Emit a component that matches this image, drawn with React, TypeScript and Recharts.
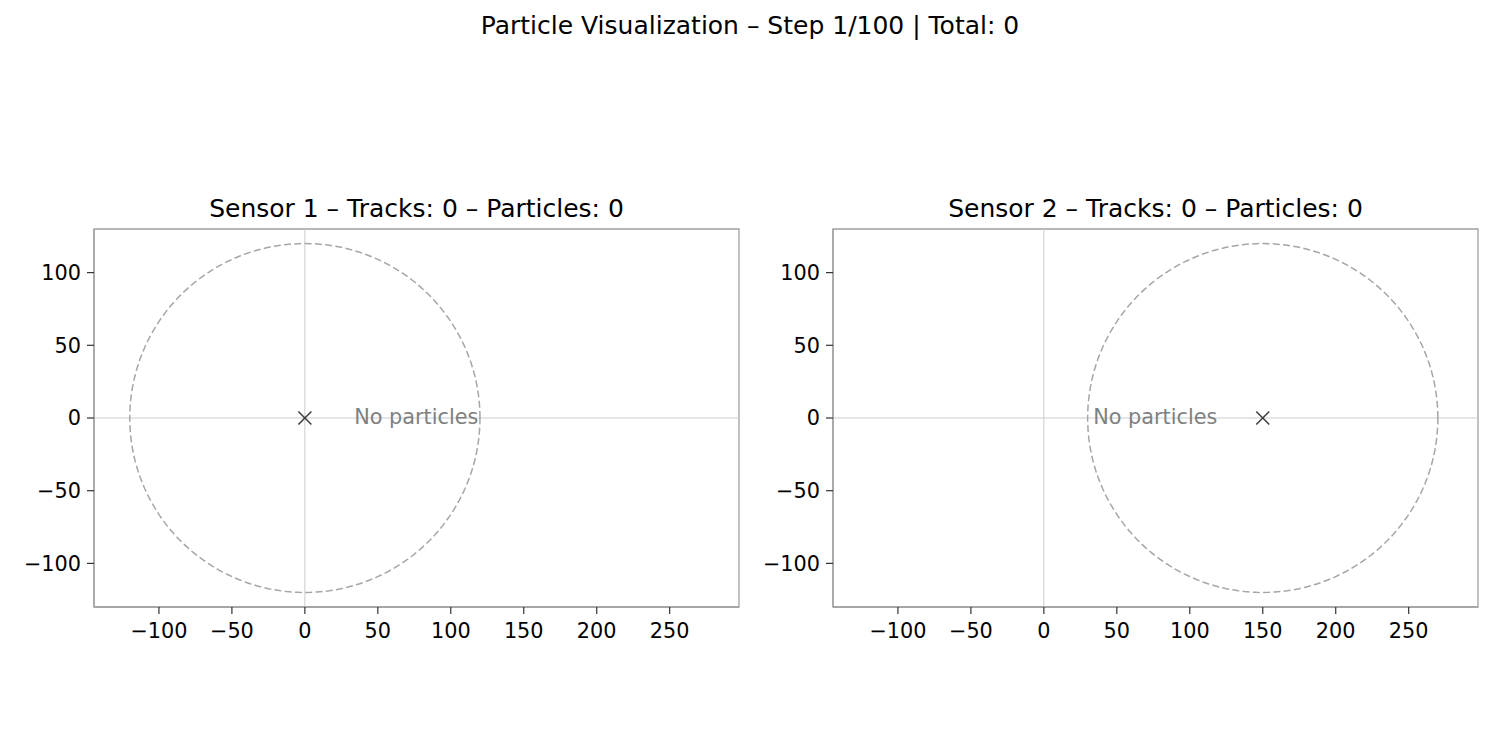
import React from 'react'
import {
  ScatterChart,
  Scatter,
  XAxis,
  YAxis,
  ReferenceLine,
  ReferenceArea,
} from 'recharts'

const sensorNames = ['Sensor 1', 'Sensor 2']
const sensorX = [0, 150]
const sensorY = [0, 0]
const sensorRange = 120
const trackCounts = [0, 0]
const particleCounts = [0, 0]
const noteX = 75
const noteY = 0

const currentStep = 1
const totalSteps = 100
const totalParticles = 0

const xDomain: [number, number] = [-144.5, 297.5]
const yDomain: [number, number] = [-130, 130]
const xTicks = [-100, -50, 0, 50, 100, 150, 200, 250]
const yTicks = [-100, -50, 0, 50, 100]

const FONT = '"DejaVu Sans", sans-serif'
const SPINE = '#a0a0a0'

const fmt = (v: number) => (v < 0 ? `\u2212${Math.abs(v)}` : `${v}`)

// outline of the sensor's range ring
const ringPoints = (cx: number, cy: number, r: number) => {
  const pts = []
  for (let i = 0; i <= 180; i++) {
    const a = (i / 180) * Math.PI * 2
    pts.push({ x: cx + r * Math.cos(a), y: cy + r * Math.sin(a) })
  }
  return pts
}

const Cross = ({ cx, cy }: { cx?: number; cy?: number }) => {
  if (cx == null || cy == null) return <g />
  const s = 6.5
  return (
    <g stroke="#404040" strokeWidth={1.6}>
      <line x1={cx - s} y1={cy - s} x2={cx + s} y2={cy + s} />
      <line x1={cx - s} y1={cy + s} x2={cx + s} y2={cy - s} />
    </g>
  )
}

const Note = ({ cx, cy }: { cx?: number; cy?: number }) => {
  if (cx == null || cy == null) return <g />
  return (
    <text
      x={cx + 2}
      y={cy - 1}
      textAnchor="middle"
      dominantBaseline="central"
      fontFamily={FONT}
      fontSize={20.8}
      fill="#808080"
    >
      No particles
    </text>
  )
}

const SensorPanel: React.FC<{ idx: number; left: number }> = ({ idx, left }) => {
  const sx = sensorX[idx]
  const sy = sensorY[idx]
  const tickStyle = { fontSize: 20.8, fill: '#000', fontFamily: FONT }
  return (
    <div style={{ position: 'absolute', left, top: 200 }}>
      <ScatterChart width={760} height={460} margin={{ top: 29, right: 21, bottom: 23, left: 34 }}>
        <XAxis
          type="number"
          dataKey="x"
          domain={xDomain}
          ticks={xTicks}
          tickFormatter={fmt}
          allowDataOverflow
          height={30}
          tick={tickStyle}
          tickSize={7}
          tickMargin={9}
          axisLine={{ stroke: SPINE, strokeWidth: 1.3 }}
          tickLine={{ stroke: '#333', strokeWidth: 1.2 }}
        />
        <YAxis
          type="number"
          dataKey="y"
          domain={yDomain}
          ticks={yTicks}
          tickFormatter={fmt}
          allowDataOverflow
          width={60}
          tick={tickStyle}
          tickSize={7}
          tickMargin={6}
          axisLine={{ stroke: SPINE, strokeWidth: 1.3 }}
          tickLine={{ stroke: '#333', strokeWidth: 1.2 }}
        />
        <ReferenceArea
          x1={xDomain[0]}
          x2={xDomain[1]}
          y1={yDomain[0]}
          y2={yDomain[1]}
          fill="none"
          fillOpacity={0}
          stroke={SPINE}
          strokeWidth={1.3}
        />
        <ReferenceLine x={0} stroke="#cccccc" strokeWidth={1} />
        <ReferenceLine y={0} stroke="#cccccc" strokeWidth={1} />
        <Scatter
          data={ringPoints(sx, sy, sensorRange)}
          line={{ stroke: '#a6a6a6', strokeWidth: 1.5, strokeDasharray: '7 3.3' }}
          shape={() => <g />}
          isAnimationActive={false}
        />
        <Scatter data={[{ x: sx, y: sy }]} shape={<Cross />} isAnimationActive={false} />
        <Scatter data={[{ x: noteX, y: noteY }]} shape={<Note />} isAnimationActive={false} />
      </ScatterChart>
    </div>
  )
}

export default function App() {
  return (
    <div
      style={{
        position: 'absolute',
        left: 0,
        top: 0,
        width: 1500,
        height: 750,
        background: '#fff',
        overflow: 'hidden',
      }}
    >
      <svg width={1500} height={750} style={{ position: 'absolute', left: 0, top: 0 }}>
        <text x={750} y={34} textAnchor="middle" fontFamily={FONT} fontSize={25} fill="#000">
          {`Particle Visualization \u2013 Step ${currentStep}/${totalSteps} | Total: ${totalParticles}`}
        </text>
        {sensorNames.map((name, i) => (
          <text
            key={name}
            x={i === 0 ? 416.5 : 1155.5}
            y={217}
            textAnchor="middle"
            fontFamily={FONT}
            fontSize={25}
            fill="#000"
          >
            {`${name} \u2013 Tracks: ${trackCounts[i]} \u2013 Particles: ${particleCounts[i]}`}
          </text>
        ))}
      </svg>
      <SensorPanel idx={0} left={0} />
      <SensorPanel idx={1} left={739} />
    </div>
  )
}
